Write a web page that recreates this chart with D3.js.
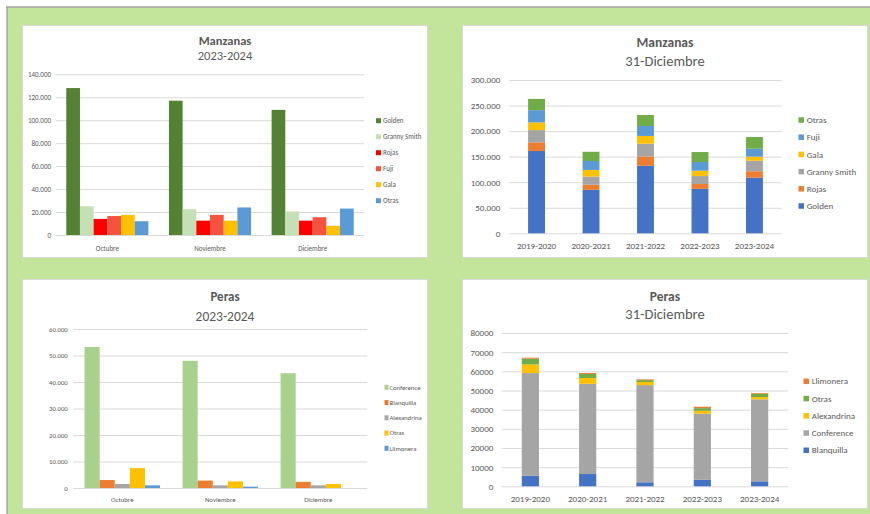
<!DOCTYPE html>
<html>
<head>
<meta charset="utf-8">
<script src="https://cdn.jsdelivr.net/npm/d3@7"></script>
<style>
  html, body { margin: 0; padding: 0; background: #ffffff; }
  svg { display: block; }
  text { font-family: Carlito, Calibri, Lato, sans-serif; fill: #595959; }
</style>
</head>
<body>
<svg id="board" width="870" height="514"></svg>
<script>
// ---- Manzanas, campaña 2023-2024, por mes ----
const months = ["Octubre", "Noviembre", "Diciembre"];
const mesGolden      = [128000, 117000, 109000];
const mesGrannySmith = [25000, 22500, 20500];
const mesRojas       = [14000, 12500, 12500];
const mesFuji        = [16500, 17500, 15500];
const mesGala        = [17500, 12500, 8000];
const mesOtras       = [12000, 24000, 23000];

// ---- Manzanas a 31 de diciembre, por campaña ----
const seasons = ["2019-2020", "2020-2021", "2021-2022", "2022-2023", "2023-2024"];
const campGolden      = [161000, 85000, 132000, 87000, 109000];
const campRojas       = [17000, 10000, 18500, 9500, 12500];
const campGrannySmith = [24000, 16000, 25000, 15500, 20500];
const campGala        = [15000, 13000, 15000, 10500, 8000];
const campFuji        = [24000, 17500, 19500, 17000, 15500];
const campOtras       = [22000, 18000, 21500, 19500, 23000];

// ---- Peras, campaña 2023-2024, por mes ----
const perMesConference  = [53200, 48000, 43300];
const perMesBlanquilla  = [3000, 2800, 2300];
const perMesAlexandrina = [1500, 1000, 1000];
const perMesOtras       = [7500, 2500, 1500];
const perMesLlimonera   = [1000, 500, 0];

// ---- Peras a 31 de diciembre, por campaña ----
const perCampBlanquilla  = [5500, 6400, 2100, 3400, 2600];
const perCampConference  = [53600, 47100, 50700, 34500, 42800];
const perCampAlexandrina = [4500, 3000, 1600, 1500, 1200];
const perCampOtras       = [3000, 2100, 1000, 1400, 1700];
const perCampLlimonera   = [500, 500, 400, 700, 400];

// ---- Ejes ----
const manzanasMesTicks  = [0, 20000, 40000, 60000, 80000, 100000, 120000, 140000];
const manzanasCampTicks = [0, 50000, 100000, 150000, 200000, 250000, 300000];
const perasMesTicks     = [0, 10000, 20000, 30000, 40000, 50000, 60000];
const perasCampTicks    = [0, 10000, 20000, 30000, 40000, 50000, 60000, 70000, 80000];

const esFormat = d3.formatLocale({ decimal: ",", thousands: ".", grouping: [3], currency: ["", " €"] }).format(",d");
const plainFormat = d3.format("d");

const svg = d3.select("#board");

// Fondo verde de la hoja
svg.append("rect").attr("x", 7).attr("y", 7).attr("width", 863).attr("height", 507).attr("fill", "#c3e49b");
svg.append("line").attr("x1", 6).attr("x2", 870).attr("y1", 7).attr("y2", 7).attr("stroke", "#a3a3a3").attr("stroke-width", 1.5);
svg.append("line").attr("x1", 7).attr("x2", 7).attr("y1", 7).attr("y2", 514).attr("stroke", "#a3a3a3").attr("stroke-width", 1.5);

function drawChart(cfg) {
  const g = svg.append("g");
  const [bx, by, bw, bh] = cfg.box;
  g.append("rect").attr("x", bx + 0.5).attr("y", by + 0.5).attr("width", bw - 1).attr("height", bh - 1)
    .attr("fill", "#ffffff").attr("stroke", "#d9d9d9").attr("stroke-width", 1);

  // Títulos
  const cx = bx + bw / 2;
  g.append("text").attr("x", cx).attr("y", cfg.titleY[0]).attr("text-anchor", "middle")
    .attr("font-size", cfg.titleSize[0]).attr("font-weight", "bold").text(cfg.title[0]);
  g.append("text").attr("x", cx).attr("y", cfg.titleY[1]).attr("text-anchor", "middle")
    .attr("font-size", cfg.titleSize[1]).text(cfg.title[1]);

  const p = cfg.plot;
  const y = d3.scaleLinear().domain([0, cfg.ticks[cfg.ticks.length - 1]]).range([p.bottom, p.top]);
  const x = d3.scaleBand().domain(cfg.categories).range([p.left, p.right])
    .paddingInner(cfg.pad).paddingOuter(cfg.pad / 2);

  // Eje Y con líneas de división
  g.append("g").attr("transform", `translate(${p.left},0)`)
    .call(d3.axisLeft(y).tickValues(cfg.ticks).tickFormat(cfg.format)
      .tickSize(-(p.right - p.left)).tickPadding(cfg.yPad))
    .call(a => a.select(".domain").remove())
    .call(a => a.selectAll(".tick line").attr("stroke", "#d9d9d9").attr("stroke-width", 1))
    .call(a => a.selectAll(".tick text").attr("font-size", cfg.tickSize).attr("fill", "#595959")
      .style("font-family", "Carlito, Calibri, Lato, sans-serif"));

  // Eje X
  g.append("g").attr("transform", `translate(0,${p.bottom})`)
    .call(d3.axisBottom(x).tickSize(0))
    .call(a => a.select(".domain").remove())
    .call(a => a.selectAll(".tick text").attr("y", cfg.xLabelOffset).attr("dy", null)
      .attr("font-size", cfg.xTickSize).attr("fill", "#595959")
      .style("font-family", "Carlito, Calibri, Lato, sans-serif"));

  const series = cfg.series;
  if (cfg.stacked) {
    const rows = cfg.categories.map((c, i) => {
      const r = { category: c };
      series.forEach(s => { r[s.name] = s.values[i]; });
      return r;
    });
    const stack = d3.stack().keys(series.map(s => s.name))(rows);
    stack.forEach((layer, k) => {
      g.append("g").attr("fill", series[k].color)
        .selectAll("rect").data(layer).join("rect")
        .attr("x", d => x(d.data.category))
        .attr("width", x.bandwidth())
        .attr("y", d => y(d[1]))
        .attr("height", d => y(d[0]) - y(d[1]));
    });
  } else {
    const inner = d3.scaleBand().domain(series.map(s => s.name)).range([0, x.bandwidth()]);
    series.forEach(s => {
      g.append("g").attr("fill", s.color)
        .selectAll("rect").data(s.values.map((v, i) => ({ c: cfg.categories[i], v })))
        .join("rect")
        .attr("x", d => x(d.c) + inner(s.name))
        .attr("width", inner.bandwidth())
        .attr("y", d => y(d.v))
        .attr("height", d => y(0) - y(d.v));
    });
  }

  // Leyenda
  const L = cfg.legend;
  const items = L.reverse ? series.slice().reverse() : series;
  const lg = g.append("g");
  items.forEach((s, i) => {
    const cy = L.y + i * L.step;
    lg.append("rect").attr("x", L.x).attr("y", cy - L.size / 2).attr("width", L.sw || L.size).attr("height", L.size)
      .attr("fill", s.color);
    lg.append("text").attr("x", L.textX).attr("y", cy).attr("dy", "0.35em")
      .attr("font-size", L.font).text(s.name);
  });
}

// Manzanas 2023-2024 por mes
drawChart({
  box: [22, 25, 406, 233],
  title: ["Manzanas", "2023-2024"], titleY: [45, 60], titleSize: [12.5, 12.5],
  plot: { left: 56, right: 364, top: 74.3, bottom: 235 },
  categories: months, ticks: manzanasMesTicks, format: esFormat,
  pad: 0.2, yPad: 5, tickSize: 7, xTickSize: 7, xLabelOffset: 15.5,
  stacked: false,
  series: [
    { name: "Golden", values: mesGolden, color: "#548235" },
    { name: "Granny Smith", values: mesGrannySmith, color: "#c5e0b4" },
    { name: "Rojas", values: mesRojas, color: "#ff0000" },
    { name: "Fuji", values: mesFuji, color: "#f4533f" },
    { name: "Gala", values: mesGala, color: "#ffc000" },
    { name: "Otras", values: mesOtras, color: "#5b9bd5" }
  ],
  legend: { x: 376, textX: 383, y: 120.7, step: 16, size: 5, font: 7, reverse: false }
});

// Manzanas a 31 de diciembre
drawChart({
  box: [462, 25, 406, 233],
  title: ["Manzanas", "31-Diciembre"], titleY: [47, 65.5], titleSize: [13.5, 14.5],
  plot: { left: 509.3, right: 781.7, top: 80, bottom: 233.3 },
  categories: seasons, ticks: manzanasCampTicks, format: esFormat,
  pad: 0.69, yPad: 9, tickSize: 9, xTickSize: 9, xLabelOffset: 15.7,
  stacked: true,
  series: [
    { name: "Golden", values: campGolden, color: "#4472c4" },
    { name: "Rojas", values: campRojas, color: "#ed7d31" },
    { name: "Granny Smith", values: campGrannySmith, color: "#a5a5a5" },
    { name: "Gala", values: campGala, color: "#ffc000" },
    { name: "Fuji", values: campFuji, color: "#5b9bd5" },
    { name: "Otras", values: campOtras, color: "#70ad47" }
  ],
  legend: { x: 798.5, textX: 806.7, y: 120, step: 17.2, size: 5.5, font: 9, reverse: true }
});

// Peras 2023-2024 por mes
drawChart({
  box: [22, 279, 406, 230],
  title: ["Peras", "2023-2024"], titleY: [301.3, 321.3], titleSize: [13, 13.5],
  plot: { left: 73.3, right: 367.3, top: 329, bottom: 488 },
  categories: months, ticks: perasMesTicks, format: esFormat,
  pad: 0.23, yPad: 5.6, tickSize: 6.7, xTickSize: 6.8, xLabelOffset: 14,
  stacked: false,
  series: [
    { name: "Conference", values: perMesConference, color: "#a9d18e" },
    { name: "Blanquilla", values: perMesBlanquilla, color: "#ed7d31" },
    { name: "Alexandrina", values: perMesAlexandrina, color: "#a5a5a5" },
    { name: "Otras", values: perMesOtras, color: "#ffc000" },
    { name: "Llimonera", values: perMesLlimonera, color: "#5b9bd5" }
  ],
  legend: { x: 384.5, textX: 389.5, y: 387.3, step: 15.25, size: 5, sw: 4, font: 6.7, reverse: false }
});

// Peras a 31 de diciembre
drawChart({
  box: [462, 279, 406, 230],
  title: ["Peras", "31-Diciembre"], titleY: [300.7, 318.7], titleSize: [13.5, 14.5],
  plot: { left: 501.7, right: 788.3, top: 333, bottom: 486.3 },
  categories: seasons, ticks: perasCampTicks, format: plainFormat,
  pad: 0.7, yPad: 8.4, tickSize: 9, xTickSize: 9, xLabelOffset: 15.7,
  stacked: true,
  series: [
    { name: "Blanquilla", values: perCampBlanquilla, color: "#4472c4" },
    { name: "Conference", values: perCampConference, color: "#a5a5a5" },
    { name: "Alexandrina", values: perCampAlexandrina, color: "#ffc000" },
    { name: "Otras", values: perCampOtras, color: "#70ad47" },
    { name: "Llimonera", values: perCampLlimonera, color: "#ed7d31" }
  ],
  legend: { x: 803.5, textX: 811.7, y: 381.3, step: 17.25, size: 5.5, font: 9, reverse: true }
});
</script>
</body>
</html>
